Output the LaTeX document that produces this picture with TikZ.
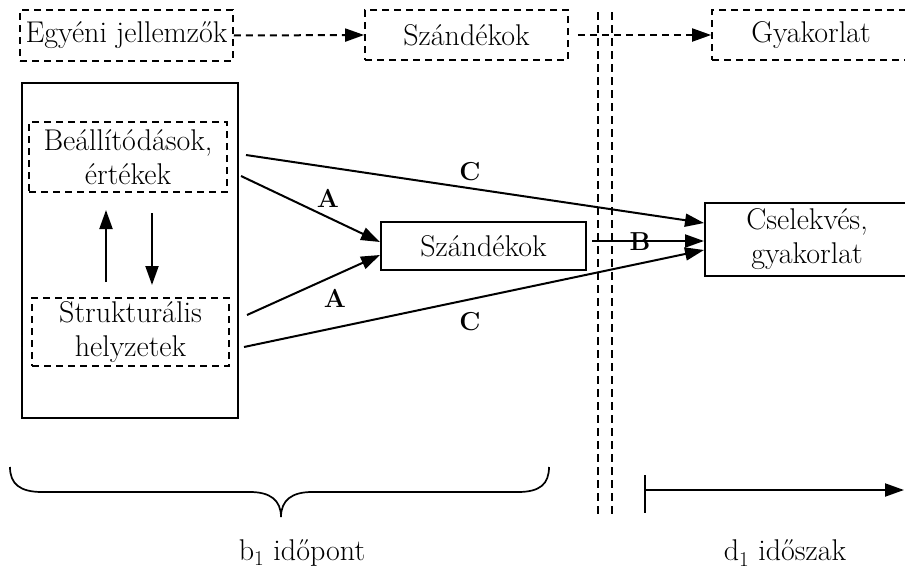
\documentclass[tikz,border=0pt]{standalone}
\usetikzlibrary{arrows.meta}
\begin{document}
\begin{tikzpicture}[x=1pt,y=-1pt,
 every node/.style={font=\fontsize{30}{34}\selectfont, inner sep=0pt, align=center},
 dbox/.style={draw, dash pattern=on 7pt off 5pt, line width=1.7pt},
 sbox/.style={draw, line width=2pt},
 conn/.style={line width=2pt, -{Triangle[length=19pt,width=13pt]}},
 dconn/.style={conn, dash pattern=on 7pt off 5pt},
 vline/.style={line width=1.7pt, dash pattern=on 8pt off 5pt},
 lab/.style={font=\fontsize{26}{30}\selectfont\bfseries}]
\useasboundingbox (0,0) rectangle (905,573);
% top row
\node[dbox, minimum width=213pt, minimum height=51pt] (egy) at (126.5,35.5) {Egyéni jellemzők};
\node[dbox, minimum width=203pt, minimum height=50pt] (szt) at (466.5,35) {Szándékok};
\node[dbox, minimum width=198pt, minimum height=50pt] (gy) at (811,35) {Gyakorlat};
\draw[dconn] (egy.east) -- (szt.west);
\draw[dconn, shorten <=9pt] (szt.east) -- (gy.west);
% vertical double dashed lines
\coordinate (v1t) at (598,12); \coordinate (v1b) at (598,517);
\coordinate (v2t) at (612,12); \coordinate (v2b) at (612,517);
\draw[vline] (v1t) -- (v1b);
\draw[vline] (v2t) -- (v2b);
% left block
\node[sbox, minimum width=216pt, minimum height=335pt] (big) at (130,250.5) {};
\node[dbox, minimum width=198pt, minimum height=70pt] (beall) at (128,157) {Beállítódások,\\értékek};
\node[dbox, minimum width=197pt, minimum height=68pt] (strukt) at (130.5,332) {Strukturális\\helyzetek};
\coordinate (upS) at (106,282); \coordinate (upE) at (106,210);
\coordinate (dnS) at (152,213); \coordinate (dnE) at (152,285);
\draw[conn] (upS) -- (upE);
\draw[conn] (dnS) -- (dnE);
% middle and right boxes
\node[sbox, minimum width=205pt, minimum height=48pt] (sz) at (483.5,246) {Szándékok};
\node[sbox, minimum width=204pt, minimum height=73pt] (cs) at (807,239.5) {Cselekvés,\\gyakorlat};
% arrows
\coordinate (c1s) at (246,155);
\coordinate (a1s) at (241,176);
\coordinate (a2s) at (247,315);
\coordinate (c2s) at (244,347);
\draw[conn] (c1s) -- ([yshift=16.5pt]cs.west);
\draw[conn] (a1s) -- ([yshift=4pt]sz.west);
\draw[conn] (a2s) -- ([yshift=-9pt]sz.west);
\draw[conn] (c2s) -- ([yshift=-10.5pt]cs.west);
\draw[conn, shorten <=5pt] ([yshift=-1.5pt]sz.east |- cs.west) -- ([yshift=-1.5pt]cs.west);
\node[lab] (la1) at (328,198) {A};
\node[lab] (la2) at (335,298) {A};
\node[lab] (lc1) at (470,172) {C};
\node[lab] (lc2) at (470,322) {C};
\node[lab] (lb) at (640,242) {B};
% brace
\draw[line width=1.7pt] (10,467) .. controls (10,484) and (20,492) .. (42,492) -- (250,492)
  .. controls (270,492) and (281,500) .. (281,517)
  .. controls (281,500) and (292,492) .. (312,492) -- (518,492)
  .. controls (540,492) and (549,484) .. (549,467);
% time arrow
\coordinate (bt) at (645,475); \coordinate (bb) at (645,513);
\coordinate (ts) at (645,490); \coordinate (te) at (904,490);
\draw[line width=2.8pt] (bt) -- (bb);
\draw[conn] (ts) -- (te);
% bottom labels
\node (b1) at (302,553) {b\textsubscript{1} időpont};
\node (d1) at (785,553) {d\textsubscript{1} időszak};
\end{tikzpicture}
\end{document}
